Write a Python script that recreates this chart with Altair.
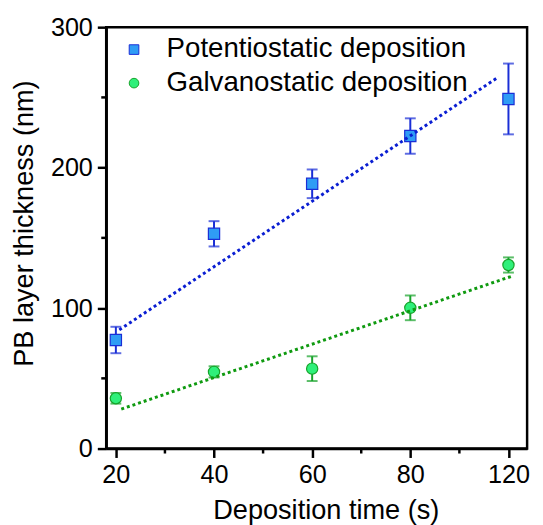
import altair as alt
import pandas as pd

# Data
times = [20, 40, 60, 80, 120]
pot_thickness = [77.3, 152.9, 188.5, 222.5, 248.9]
pot_err = [9.4, 9.0, 10.2, 12.6, 25.2]
gal_thickness = [35.8, 54.6, 56.9, 100.2, 130.7]
gal_err = [3.8, 4.0, 8.8, 8.8, 5.4]

# fitted lines (endpoints, in axis position units)
pot_fit_x = [20.7, 98.0]
pot_fit_y = [84.5, 264.6]
gal_fit_x = [21.1, 100.5]
gal_fit_y = [28.1, 122.5]

series_names = ["Potentiostatic deposition", "Galvanostatic deposition"]
fill_colors = ["#2f9cf5", "#2ff07a"]
stroke_colors = ["#1a2ed6", "#17a32a"]
line_colors = ["#0a1ed2", "#0f9a10"]

x_ticks = [20, 40, 60, 80, 100]
x_minor = [30, 50, 70, 90]
y_ticks = [0, 100, 200, 300]
y_minor = [50, 150, 250]

rows = []
for t, v, e in zip(times, pot_thickness, pot_err):
    rows.append({"t": t, "v": v, "lo": v - e, "hi": v + e, "series": series_names[0]})
for t, v, e in zip(times, gal_thickness, gal_err):
    rows.append({"t": t, "v": v, "lo": v - e, "hi": v + e, "series": series_names[1]})
df = pd.DataFrame(rows)

fit_rows = []
for x, y in zip(pot_fit_x, pot_fit_y):
    fit_rows.append({"x": x, "y": y, "series": series_names[0]})
for x, y in zip(gal_fit_x, gal_fit_y):
    fit_rows.append({"x": x, "y": y, "series": series_names[1]})
fit_df = pd.DataFrame(fit_rows)

FONT = "Liberation Sans"
W, H = 426.5, 427

xscale = alt.Scale(domain=[18.03, 103.8], nice=False, zero=False)
yscale = alt.Scale(domain=[0, 300], nice=False)

x_axis = alt.Axis(
    values=x_ticks,
    labelExpr="datum.value == 100 ? '120' : datum.label",
    title="Deposition time (s)",
    titleX=222.5, titleY=70.7, titleBaseline="alphabetic", titleAlign="center",
)
y_axis = alt.Axis(
    values=y_ticks,
    title="PB layer thickness (nm)",
    titleAngle=270, titleX=-74.5, titleY=198.5, titleBaseline="alphabetic", titleAlign="center",
)

base = alt.Chart(df).transform_calculate(pos="datum.t == 120 ? 100 : datum.t")

err_color = alt.Color("series:N", scale=alt.Scale(domain=series_names, range=stroke_colors), legend=None)

err_rule = base.mark_rule(strokeWidth=2).encode(
    x=alt.X("pos:Q", scale=xscale, axis=x_axis),
    y=alt.Y("lo:Q", scale=yscale, axis=y_axis),
    y2="hi:Q",
    color=err_color,
)
cap_lo = base.mark_tick(orient="horizontal", size=11, thickness=2).encode(
    x=alt.X("pos:Q", scale=xscale), y=alt.Y("lo:Q", scale=yscale), color=err_color
)
cap_hi = base.mark_tick(orient="horizontal", size=11, thickness=2).encode(
    x=alt.X("pos:Q", scale=xscale), y=alt.Y("hi:Q", scale=yscale), color=err_color
)

legend = alt.Legend(
    title=None, orient="none", legendX=14.2, legendY=8.7,
    labelFont=FONT, labelFontSize=28, labelColor="black", labelLimit=0,
    labelOffset=19, rowPadding=6, padding=0, symbolSize=95, symbolStrokeWidth=1,
)

points = base.mark_point(filled=True, size=130, strokeWidth=1.2, opacity=1).encode(
    x=alt.X("pos:Q", scale=xscale),
    y=alt.Y("v:Q", scale=yscale),
    fill=alt.Fill("series:N", scale=alt.Scale(domain=series_names, range=fill_colors), legend=legend),
    stroke=alt.Stroke("series:N", scale=alt.Scale(domain=series_names, range=stroke_colors), legend=legend),
    shape=alt.Shape("series:N", scale=alt.Scale(domain=series_names, range=["square", "circle"]), legend=legend),
)

fit = alt.Chart(fit_df).mark_line(strokeDash=[3, 3], strokeWidth=3).encode(
    x=alt.X("x:Q", scale=xscale),
    y=alt.Y("y:Q", scale=yscale),
    detail="series:N",
    color=alt.Color("series:N", scale=alt.Scale(domain=series_names, range=line_colors), legend=None),
)

ymin_df = pd.DataFrame({"v": y_minor})
xmin_df = pd.DataFrame({"v": x_minor})
y_minor_ticks = alt.Chart(ymin_df).mark_rule(color="black", strokeWidth=2.5).encode(
    y=alt.Y("v:Q", scale=yscale), x=alt.value(-5), x2=alt.value(0)
)
x_minor_ticks = alt.Chart(xmin_df).mark_rule(color="black", strokeWidth=2.5).encode(
    x=alt.X("v:Q", scale=xscale), y=alt.value(H), y2=alt.value(H + 5)
)

chart = alt.layer(err_rule, cap_lo, cap_hi, points, fit, y_minor_ticks, x_minor_ticks).resolve_scale(
    color="independent"
).properties(
    width=W, height=H,
    autosize=alt.AutoSizeParams(type="none"),
    padding={"left": 99.5, "top": 16, "right": 8, "bottom": 74},
).configure_view(
    stroke="black", strokeWidth=2.5
).configure_axis(
    grid=False,
    domainColor="black", domainWidth=2.5,
    tickColor="black", tickWidth=2.5, tickSize=9,
    labelFont=FONT, labelFontSize=25.5, labelColor="black", labelPadding=5,
    titleFont=FONT, titleFontSize=27.5, titleColor="black", titleFontWeight="normal",
    labelFlush=False, labelOverlap=False,
)

chart.save("out.html", embed_options={"renderer": "svg", "actions": False})
